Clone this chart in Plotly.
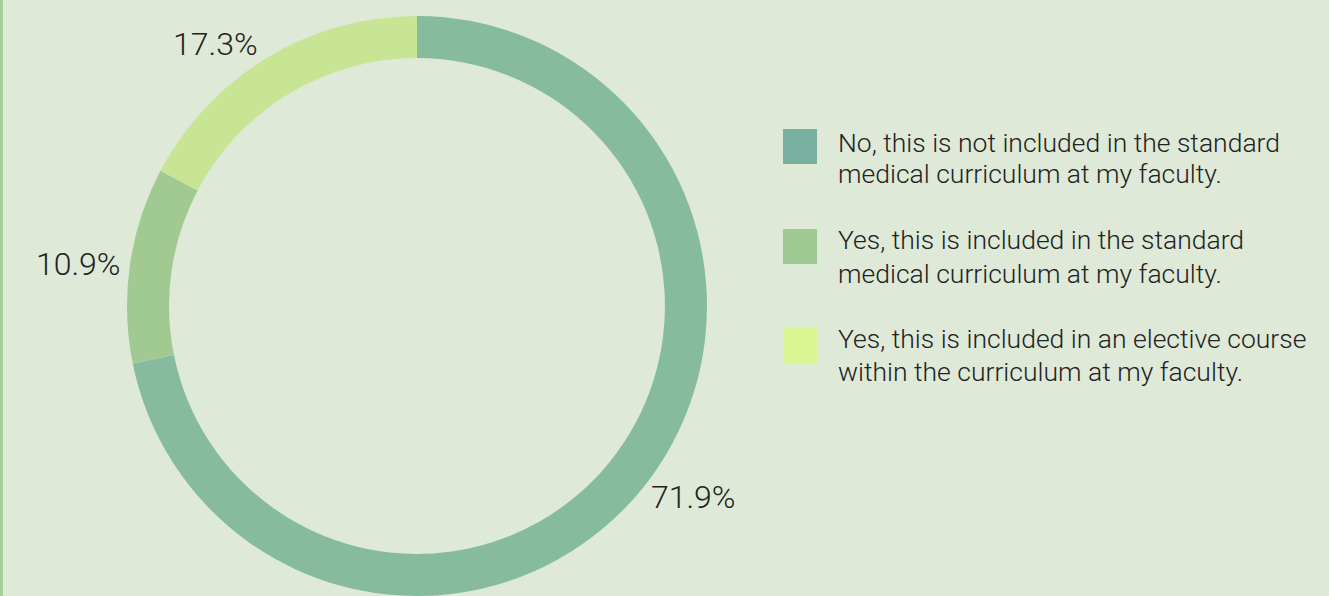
import plotly.graph_objects as go

W, H = 1329, 596

labels = [
    "No, this is not included in the standard<br>medical curriculum at my faculty.",
    "Yes, this is included in the standard<br>medical curriculum at my faculty.",
    "Yes, this is included in an elective course<br>within the curriculum at my faculty.",
]
values = [71.9, 10.9, 17.3]
slice_colors = ["#87bb9e", "#a0ca92", "#c8e596"]
swatch_colors = ["#78b09f", "#a0ca93", "#d9f592"]

BG = "#dee9d8"
TXT = "#222222"
FONT = "Roboto"

cx, top = 417, 16

fig = go.Figure()
fig.add_trace(go.Pie(
    labels=labels,
    values=values,
    hole=0.855,
    sort=False,
    direction="clockwise",
    rotation=0,
    marker=dict(colors=slice_colors, line=dict(width=0)),
    textposition="outside",
    texttemplate="%{value:.1f}%",
    textfont=dict(family=FONT, size=32, color=TXT, weight=300),
    domain=dict(x=[0, 2 * cx / W], y=[0, 1 - top / H]),
    showlegend=False,
    automargin=False,
    hoverinfo="label+value",
))

# legend built by hand (large swatches)
swatch_tops = [129, 229, 328]
line_centers = [(143, 174), (240, 273), (338, 371)]
shapes = [dict(type="rect", xref="paper", yref="paper",
               x0=0, x1=3 / W, y0=0, y1=1,
               fillcolor="#a9cf99", line=dict(width=0), layer="above")]
annotations = []
for lab, col, st, lc in zip(labels, swatch_colors, swatch_tops, line_centers):
    shapes.append(dict(type="rect", xref="paper", yref="paper",
                       x0=783 / W, x1=817 / W,
                       y0=1 - (st + 35) / H, y1=1 - st / H,
                       fillcolor=col, line=dict(width=0)))
    for line, yc in zip(lab.split("<br>"), lc):
        annotations.append(dict(xref="paper", yref="paper",
                                x=836 / W, y=1 - yc / H,
                                xanchor="left", yanchor="middle", align="left",
                                text=line, showarrow=False,
                                font=dict(family=FONT, size=26.5, color=TXT, weight=300)))

fig.update_layout(
    width=W, height=H,
    margin=dict(l=0, r=0, t=0, b=0, autoexpand=False),
    paper_bgcolor=BG, plot_bgcolor=BG,
    shapes=shapes, annotations=annotations,
)

fig.write_html("out.html")
